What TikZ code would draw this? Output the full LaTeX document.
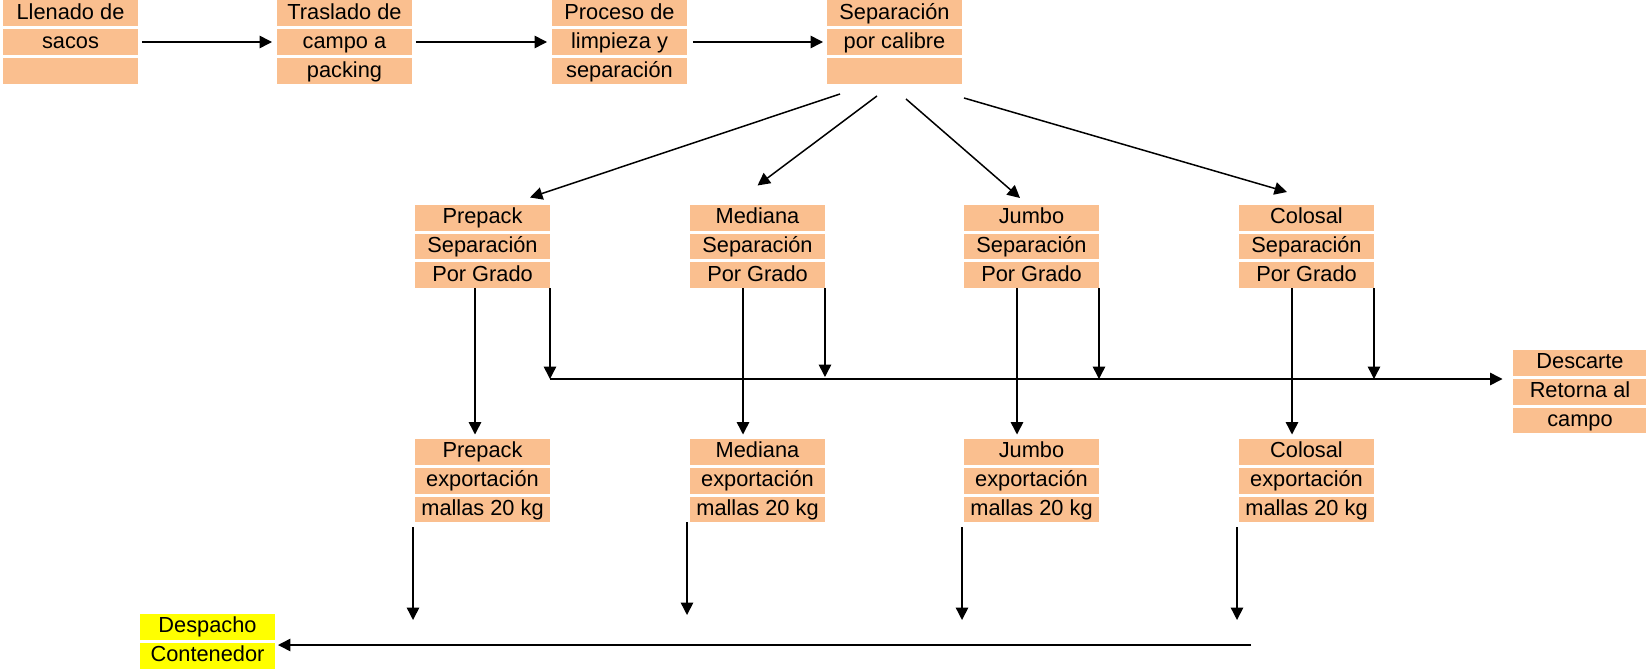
\documentclass[tikz,border=0pt]{standalone}
\usepackage{fontspec}
\setmainfont{Liberation Sans}
\usetikzlibrary{positioning,calc,arrows.meta}

\definecolor{durazno}{RGB}{250,191,143}
\definecolor{amarillo}{RGB}{255,255,0}

\tikzset{
  celda/.style={fill=durazno,minimum width=2.7cm,minimum height=0.52cm,
    inner sep=0pt,outer sep=0pt,text height=0.85em,text depth=0.12em,
    font=\fontsize{12.4}{14}\selectfont},
  flecha/.style={-{Triangle[length=0.25cm,width=0.25cm]},line width=0.03cm},
}

% three stacked cells : name, position, texts
\newcommand{\bloque}[5]{%
  \node[celda] (#1-1) at #2 {#3};
  \node[celda,below=0.06cm of #1-1] (#1-2) {#4};
  \node[celda,below=0.06cm of #1-2] (#1-3) {#5};
}

\begin{document}
\begin{tikzpicture}[x=0.02cm,y=-0.02cm]
    \useasboundingbox (0,0) rectangle (1646,670);

    % --------------------------------------------------------- %
    % ------------- first line (field to packing)
    % --------------------------------------------------------- %
    \bloque{llen}{(70.5,13)}{Llenado de}{sacos}{}
    \bloque{tras}{(344.5,13)}{Traslado de}{campo a}{packing}
    \bloque{proc}{(619.5,13)}{Proceso de}{limpieza y}{separación}
    \bloque{calib}{(894.5,13)}{Separación}{por calibre}{}

    \draw[flecha,shorten <=0.08cm,shorten >=0.1cm] (llen-2) -- (tras-2);
    \draw[flecha,shorten <=0.08cm,shorten >=0.1cm] (tras-2) -- (proc-2);
    \draw[flecha,shorten <=0.12cm,shorten >=0.08cm] (proc-2) -- (calib-2);

    % --------------------------------------------------------- %
    % ------------ separation by grade
    % --------------------------------------------------------- %
    \bloque{prep}{(482.5,217.5)}{Prepack}{Separación}{Por Grado}
    \bloque{med}{(757.5,217.5)}{Mediana}{Separación}{Por Grado}
    \bloque{jum}{(1031.5,217.5)}{Jumbo}{Separación}{Por Grado}
    \bloque{col}{(1306.5,217.5)}{Colosal}{Separación}{Por Grado}

    \draw[flecha] ($(calib-3.south west)+(13,10)$) -- ($(prep-1.north east)+(-20,-7)$);
    \draw[flecha] ($(calib-3.south)+(-17.5,12)$) -- ($(med-1.north)+(0,-19)$);
    \draw[flecha] ($(calib-3.south)+(11.5,15)$) -- ($(jum-1.north)+(-11.5,-6.5)$);
    \draw[flecha] ($(calib-3.south east)+(2,14)$) -- ($(col-1.north)+(-19.5,-12.5)$);

    % --------------------------------------------------------- %
    % ------------ discard back to the field
    % --------------------------------------------------------- %
    \bloque{desc}{(1580,362.5)}{Descarte}{Retorna al}{campo}
    \coordinate (bus) at (550,379);

    \draw[flecha] (prep-3.south east) -- (prep-3.south east |- bus);
    \draw[flecha] (med-3.south east) -- ($(med-3.south east |- bus)+(0,-2)$);
    \draw[flecha] (jum-3.south east) -- (jum-3.south east |- bus);
    \draw[flecha] (col-3.south east) -- (col-3.south east |- bus);
    \draw[flecha] (bus) -- ($(bus -| desc-1.west)+(-10,0)$);

    % --------------------------------------------------------- %
    % ------------ export meshes
    % --------------------------------------------------------- %
    \bloque{prepexp}{(482.5,451.5)}{Prepack}{exportación}{mallas 20 kg}
    \bloque{medexp}{(757.5,451.5)}{Mediana}{exportación}{mallas 20 kg}
    \bloque{jumexp}{(1031.5,451.5)}{Jumbo}{exportación}{mallas 20 kg}
    \bloque{colexp}{(1306.5,451.5)}{Colosal}{exportación}{mallas 20 kg}

    \draw[flecha] ($(prep-3.south)+(-7.5,0)$) -- ($(prepexp-1.north)+(-7.5,-4)$);
    \draw[flecha] ($(med-3.south)+(-14.5,0)$) -- ($(medexp-1.north)+(-14.5,-4)$);
    \draw[flecha] ($(jum-3.south)+(-14.5,0)$) -- ($(jumexp-1.north)+(-14.5,-4)$);
    \draw[flecha] ($(col-3.south)+(-14.5,0)$) -- ($(colexp-1.north)+(-14.5,-4)$);

    % --------------------------------------------------------- %
    % ------------ dispatch
    % --------------------------------------------------------- %
    \node[celda,fill=amarillo] (desp-1) at (207.5,626.5) {Despacho};
    \node[celda,fill=amarillo,below=0.06cm of desp-1] (desp-2) {Contenedor};
    \coordinate (salida) at (1251,645);

    \draw[flecha] ($(prepexp-3.south west)+(-2,5)$) -- ($(prepexp-3.south west |- salida)+(-2,-25)$);
    \draw[flecha] ($(medexp-3.south west)+(-3,0)$) -- ($(medexp-3.south west |- salida)+(-3,-30)$);
    \draw[flecha] ($(jumexp-3.south west)+(-2,5)$) -- ($(jumexp-3.south west |- salida)+(-2,-25)$);
    \draw[flecha] ($(colexp-3.south west)+(-2,5)$) -- ($(colexp-3.south west |- salida)+(-2,-25)$);
    \draw[flecha] (salida) -- ($(salida -| desp-2.east)+(3,0)$);

  \end{tikzpicture}
\end{document}
